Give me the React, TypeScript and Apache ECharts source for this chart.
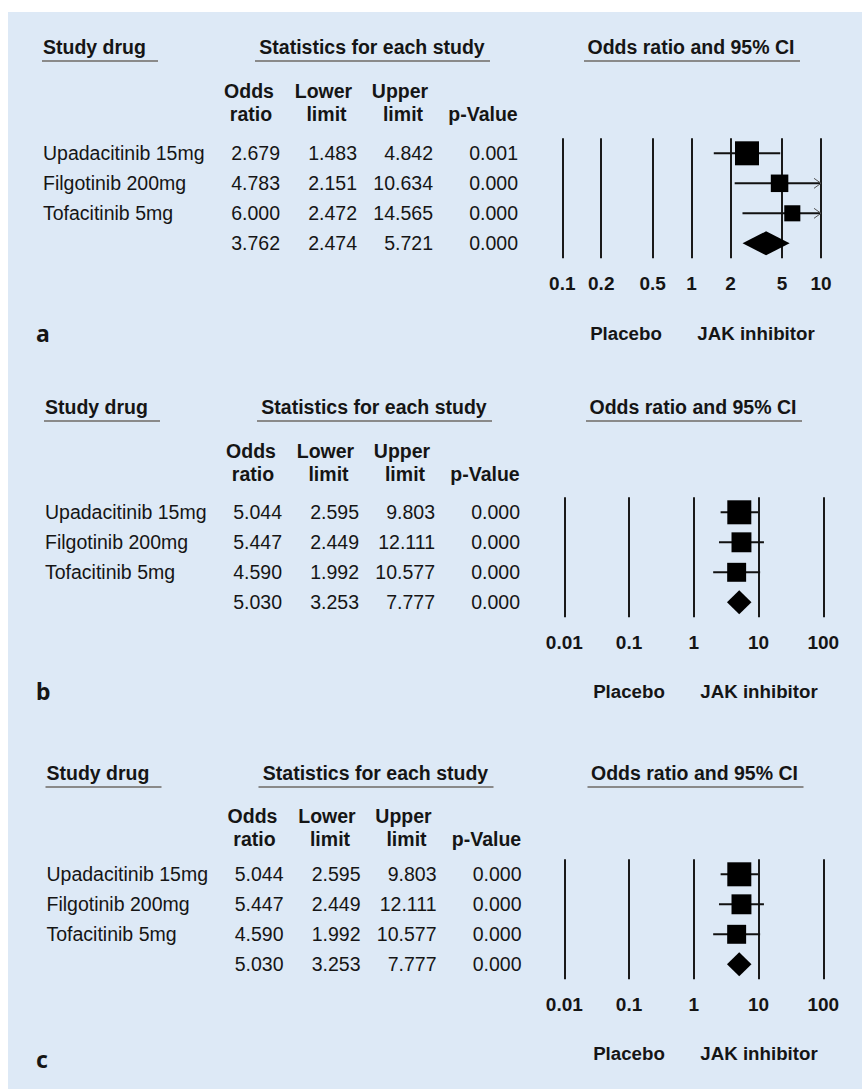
import React, { useEffect, useRef } from 'react';
import * as echarts from 'echarts';

// ---------- data ----------
const studyNames = ['Upadacitinib 15mg', 'Filgotinib 200mg', 'Tofacitinib 5mg', ''];

const oddsA = [2.679, 4.783, 6.0, 3.762];
const lowerA = [1.483, 2.151, 2.472, 2.474];
const upperA = [4.842, 10.634, 14.565, 5.721];
const pA = ['0.001', '0.000', '0.000', '0.000'];
const weightA = [1, 0.73, 0.67];
const ticksA = [0.1, 0.2, 0.5, 1, 2, 5, 10];

const oddsB = [5.044, 5.447, 4.59, 5.03];
const lowerB = [2.595, 2.449, 1.992, 3.253];
const upperB = [9.803, 12.111, 10.577, 7.777];
const pB = ['0.000', '0.000', '0.000', '0.000'];
const weightB = [1, 0.83, 0.79];
const ticksB = [0.01, 0.1, 1, 10, 100];

const oddsC = [5.044, 5.447, 4.59, 5.03];
const lowerC = [2.595, 2.449, 1.992, 3.253];
const upperC = [9.803, 12.111, 10.577, 7.777];
const pC = ['0.000', '0.000', '0.000', '0.000'];
const weightC = [1, 0.83, 0.79];
const ticksC = [0.01, 0.1, 1, 10, 100];

const sectionTitles = ['Study drug', 'Statistics for each study', 'Odds ratio and 95% CI'];
const columnHeads = [['Odds', 'ratio'], ['Lower', 'limit'], ['Upper', 'limit'], ['', 'p-Value']];
const sideLabels = ['Placebo', 'JAK inhibitor'];
const panelLetters = ['a', 'b', 'c'];

const panelsData = [
  { odds: oddsA, lower: lowerA, upper: upperA, p: pA, weight: weightA, ticks: ticksA },
  { odds: oddsB, lower: lowerB, upper: upperB, p: pB, weight: weightB, ticks: ticksB },
  { odds: oddsC, lower: lowerC, upper: upperC, p: pC, weight: weightC, ticks: ticksC },
];

// ---------- layout ----------
const layouts = [
  { dx: 0, headY: 47, oddsY: 91, ratioY: 114, top: 138.3, left: 562.3, right: 821, placeY: 333, letterY: 333, sideDx: 0 },
  { dx: 2, headY: 407, oddsY: 451, ratioY: 474, top: 497.3, left: 564.3, right: 823.3, placeY: 691.7, letterY: 691, sideDx: 3 },
  { dx: 3.5, headY: 773, oddsY: 816, ratioY: 838.5, top: 859.3, left: 564.3, right: 823.3, placeY: 1053.3, letterY: 1059, sideDx: 3 },
];

const FONT = "'Liberation Sans', Arial, sans-serif";
const LETTER_FONT = "'Noto Sans', 'Open Sans', sans-serif";
const TXT = '#151515';
const FS = 19.5;
const MAX_BOX = 24;
const PLOT_H = 120;

function txt(text: string, x: number, y: number, align: string, bold: boolean, size = FS, family = FONT) {
  return {
    type: 'text',
    silent: true,
    style: {
      text,
      x,
      y,
      fill: TXT,
      fontFamily: family,
      fontSize: size,
      fontWeight: bold ? 'bold' : 'normal',
      align,
      textAlign: align,
      verticalAlign: 'middle',
      textVerticalAlign: 'middle',
    },
  };
}

function buildOption() {
  const graphic: any[] = [
    { type: 'rect', silent: true, z: -10, shape: { x: 8, y: 12, width: 854, height: 1077 }, style: { fill: '#dde9f6' } },
  ];
  const grid: any[] = [];
  const xAxis: any[] = [];
  const yAxis: any[] = [];
  const series: any[] = [];

  panelsData.forEach((d, pi) => {
    const L = layouts[pi];
    const dx = L.dx;
    // section titles + underlines
    graphic.push(txt(sectionTitles[0], 43 + dx, L.headY, 'left', true));
    graphic.push(txt(sectionTitles[1], 372 + dx, L.headY, 'center', true));
    graphic.push(txt(sectionTitles[2], 691 + dx, L.headY, 'center', true));
    const ul = [[42, 158], [255, 490], [584, 800]];
    ul.forEach(([a, b]) => {
      graphic.push({ type: 'rect', silent: true, shape: { x: a + dx, y: L.headY + 13, width: b - a, height: 2 }, style: { fill: '#8a8a8a' } });
    });
    // column headers
    const headX = [[249, 251], [323.5, 326.5], [400, 403], [0, 483]];
    columnHeads.forEach((pair, ci) => {
      if (pair[0]) graphic.push(txt(pair[0], headX[ci][0] + dx, L.oddsY, 'center', true));
      graphic.push(txt(pair[1], headX[ci][1] + dx, L.ratioY, 'center', true));
    });
    // rows
    const colRight = [280, 357, 433, 518];
    for (let r = 0; r < 4; r++) {
      const y = L.top + (PLOT_H / 8) * (2 * r + 1);
      if (studyNames[r]) graphic.push(txt(studyNames[r], 43 + dx, y, 'left', false));
      graphic.push(txt(d.odds[r].toFixed(3), colRight[0] + dx, y, 'right', false));
      graphic.push(txt(d.lower[r].toFixed(3), colRight[1] + dx, y, 'right', false));
      graphic.push(txt(d.upper[r].toFixed(3), colRight[2] + dx, y, 'right', false));
      graphic.push(txt(d.p[r], colRight[3] + dx, y, 'right', false));
    }
    // side labels and panel letter
    graphic.push(txt(sideLabels[0], 626 + L.sideDx, L.placeY, 'center', true, 18.7));
    graphic.push(txt(sideLabels[1], 756 + L.sideDx, L.placeY, 'center', true, 18.7));
    graphic.push(txt(panelLetters[pi], 36, L.letterY, 'left', true, 23, LETTER_FONT));

    // chart
    const logs = d.ticks.map((t) => Math.log10(t));
    const lo = logs[0];
    const hi = logs[logs.length - 1];
    grid.push({ left: L.left, top: L.top, width: L.right - L.left, height: PLOT_H, containLabel: false });
    xAxis.push({
      type: 'value',
      gridIndex: pi,
      min: lo,
      max: hi,
      axisLine: { show: false },
      axisTick: { show: false },
      splitLine: { show: false },
      axisLabel: {
        customValues: logs,
        margin: 15.5,
        color: TXT,
        fontFamily: FONT,
        fontWeight: 'bold',
        fontSize: 19,
        formatter: (v: number) => {
          const i = logs.findIndex((l) => Math.abs(l - v) < 1e-9);
          return i >= 0 ? String(d.ticks[i]) : '';
        },
      },
    });
    yAxis.push({
      type: 'category',
      gridIndex: pi,
      data: ['0', '1', '2', '3'],
      inverse: true,
      show: false,
    });
    series.push({
      type: 'line',
      xAxisIndex: pi,
      yAxisIndex: pi,
      data: [],
      z: 1,
      silent: true,
      markLine: {
        silent: true,
        symbol: ['none', 'none'],
        label: { show: false },
        lineStyle: { color: '#1a1a1a', width: 2, type: 'solid' },
        data: logs.map((l) => ({ xAxis: l })),
      },
    });
    const rows = d.odds.map((o, r) => {
      const lg = Math.log10(d.upper[r]);
      const ll = Math.log10(d.lower[r]);
      return [
        Math.log10(o),
        r,
        Math.max(ll, lo),
        Math.min(lg, hi),
        r < 3 ? d.weight[r] * MAX_BOX : 0,
        r === 3 ? 1 : 0,
        lg > hi ? 1 : 0,
        ll < lo ? 1 : 0,
      ];
    });
    series.push({
      type: 'custom',
      xAxisIndex: pi,
      yAxisIndex: pi,
      z: 5,
      silent: true,
      clip: false,
      encode: { x: [0, 2, 3], y: 1 },
      data: rows,
      renderItem: (params: any, api: any) => {
        const row = api.value(1);
        const [xo, y] = api.coord([api.value(0), row]);
        const xl = api.coord([api.value(2), row])[0];
        const xh = api.coord([api.value(3), row])[0];
        const size = api.value(4);
        const children: any[] = [];
        if (api.value(5) === 1) {
          const h = MAX_BOX;
          children.push({
            type: 'polygon',
            shape: { points: [[xl, y], [xo, y - h / 2], [xh, y], [xo, y + h / 2]] },
            style: { fill: '#000' },
          });
        } else {
          children.push({ type: 'line', shape: { x1: xl, y1: y, x2: xh, y2: y }, style: { stroke: '#111', lineWidth: 2 } });
          if (api.value(6) === 1) {
            children.push({
              type: 'polyline',
              shape: { points: [[xh - 7, y - 5], [xh, y], [xh - 7, y + 5]] },
              style: { stroke: '#555', lineWidth: 1, fill: 'none' },
            });
          }
          if (api.value(7) === 1) {
            children.push({
              type: 'polyline',
              shape: { points: [[xl + 7, y - 5], [xl, y], [xl + 7, y + 5]] },
              style: { stroke: '#555', lineWidth: 1, fill: 'none' },
            });
          }
          children.push({
            type: 'rect',
            shape: { x: xo - size / 2, y: y - size / 2, width: size, height: size },
            style: { fill: '#000' },
          });
        }
        return { type: 'group', children };
      },
    });
  });

  return {
    animation: false,
    backgroundColor: '#ffffff',
    grid,
    xAxis,
    yAxis,
    series,
    graphic: { elements: graphic },
  };
}

export default function App() {
  const ref = useRef<HTMLDivElement>(null);
  useEffect(() => {
    if (!ref.current) return;
    const chart = echarts.init(ref.current, undefined, { renderer: 'svg' });
    chart.setOption(buildOption() as any);
    return () => chart.dispose();
  }, []);
  return <div ref={ref} style={{ position: 'fixed', left: 0, top: 0, width: 862, height: 1089 }} />;
}
